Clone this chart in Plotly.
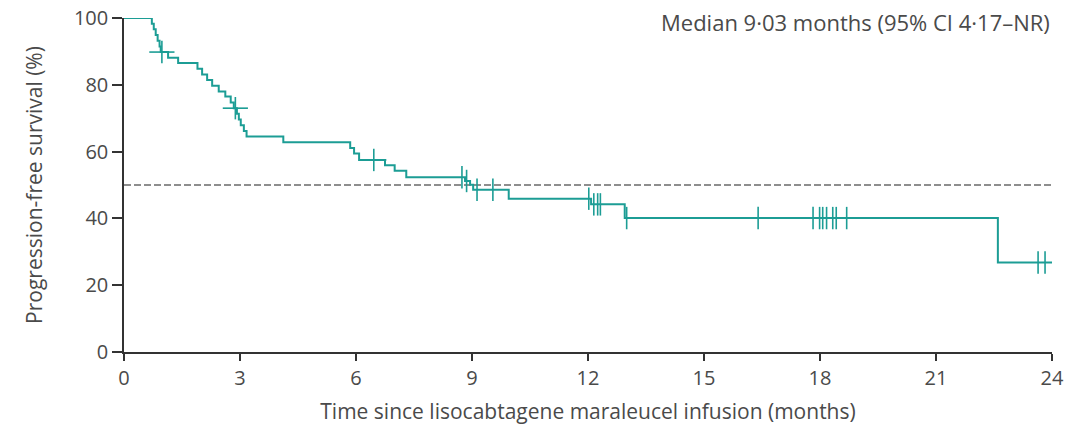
import plotly.graph_objects as go

# Kaplan-Meier step curve (time in months, PFS %)
step_times = [0, 0.72, 0.77, 0.82, 0.87, 0.92, 0.95, 1.14, 1.40, 1.90, 2.02, 2.15, 2.28, 2.45,
              2.62, 2.76, 2.84, 2.92, 2.97, 3.02, 3.10, 3.17, 4.12, 5.85, 5.95, 6.08, 6.75,
              7.00, 7.30, 8.82, 8.95, 9.03, 9.95, 12.08, 12.95, 22.60, 24.0]
step_surv = [100, 98.3, 96.6, 94.9, 93.2, 91.5, 89.8, 88.1, 86.5, 84.8, 83.1, 81.4, 79.7, 78.0,
             76.5, 74.7, 73.0, 71.3, 69.6, 67.9, 66.2, 64.5, 62.8, 61.1, 59.4, 57.5, 55.9,
             54.3, 52.3, 51.2, 50.1, 48.6, 45.9, 44.2, 40.1, 26.8, 26.8]

# Censored observations
cens_times = [0.98, 2.88, 6.46, 8.74, 8.86, 9.13, 9.54, 12.02, 12.15, 12.25, 12.32, 13.0,
              16.4, 17.82, 17.99, 18.07, 18.17, 18.33, 18.42, 18.69, 23.64, 23.82]
cens_surv = [89.8, 73.0, 57.5, 52.3, 51.2, 48.6, 48.6, 45.9, 44.2, 44.2, 44.2, 40.1,
             40.1, 40.1, 40.1, 40.1, 40.1, 40.1, 40.1, 40.1, 26.8, 26.8]

x_ticks = [0, 3, 6, 9, 12, 15, 18, 21, 24]
y_ticks = [0, 20, 40, 60, 80, 100]
median_line = 50

teal = "#1c9d95"
grey = "#4a4a4a"
font_fam = "Open Sans, sans-serif"

fig = go.Figure()
fig.add_trace(go.Scatter(x=[0, 24], y=[median_line, median_line], mode="lines",
                         line=dict(color="#6a6a6a", width=1.5, dash="7px,3px"),
                         hoverinfo="skip", showlegend=False))
fig.add_trace(go.Scatter(x=step_times, y=step_surv, mode="lines",
                         line=dict(color=teal, width=2, shape="hv"),
                         cliponaxis=False, showlegend=False))
fig.add_trace(go.Scatter(x=cens_times, y=cens_surv, mode="markers",
                         marker=dict(symbol="line-ns", size=16, color=teal,
                                     line=dict(color=teal, width=1.6)),
                         cliponaxis=False, showlegend=False))
early = [i for i in range(len(cens_times)) if cens_times[i] < 7]
fig.add_trace(go.Scatter(x=[cens_times[i] for i in early], y=[cens_surv[i] for i in early],
                         mode="markers",
                         marker=dict(symbol="line-ew", size=18, color=teal,
                                     line=dict(color=teal, width=1.6)),
                         cliponaxis=False, showlegend=False))

fig.add_annotation(text="Median 9·03 months (95% CI 4·17–NR)", xref="paper", yref="paper",
                   x=1.0, y=0.988, xanchor="right", yanchor="middle", showarrow=False,
                   font=dict(family=font_fam, size=22, color=grey))

fig.update_layout(
    width=1084, height=432,
    margin=dict(l=124, r=32, t=18, b=80),
    plot_bgcolor="white", paper_bgcolor="white",
    font=dict(family=font_fam, size=20, color=grey),
    xaxis=dict(range=[0, 24], tickvals=x_ticks, ticks="outside", ticklen=7, tickwidth=1.5,
               tickcolor="#333", showline=True, linecolor="#333", linewidth=1.5,
               showgrid=False, zeroline=False, tickfont=dict(size=20), automargin=False,
               title=dict(text="Time since lisocabtagene maraleucel infusion (months)",
                          standoff=15, font=dict(size=21))),
    yaxis=dict(range=[0, 100], tickvals=y_ticks, ticks="outside", ticklen=10, tickwidth=1.5,
               tickcolor="#333", showline=True, linecolor="#333", linewidth=1.5,
               showgrid=False, zeroline=False, tickfont=dict(size=20), automargin=False,
               title=dict(text="Progression-free survival (%)", standoff=26,
                          font=dict(size=21))),
)

fig.write_html("out.html")
